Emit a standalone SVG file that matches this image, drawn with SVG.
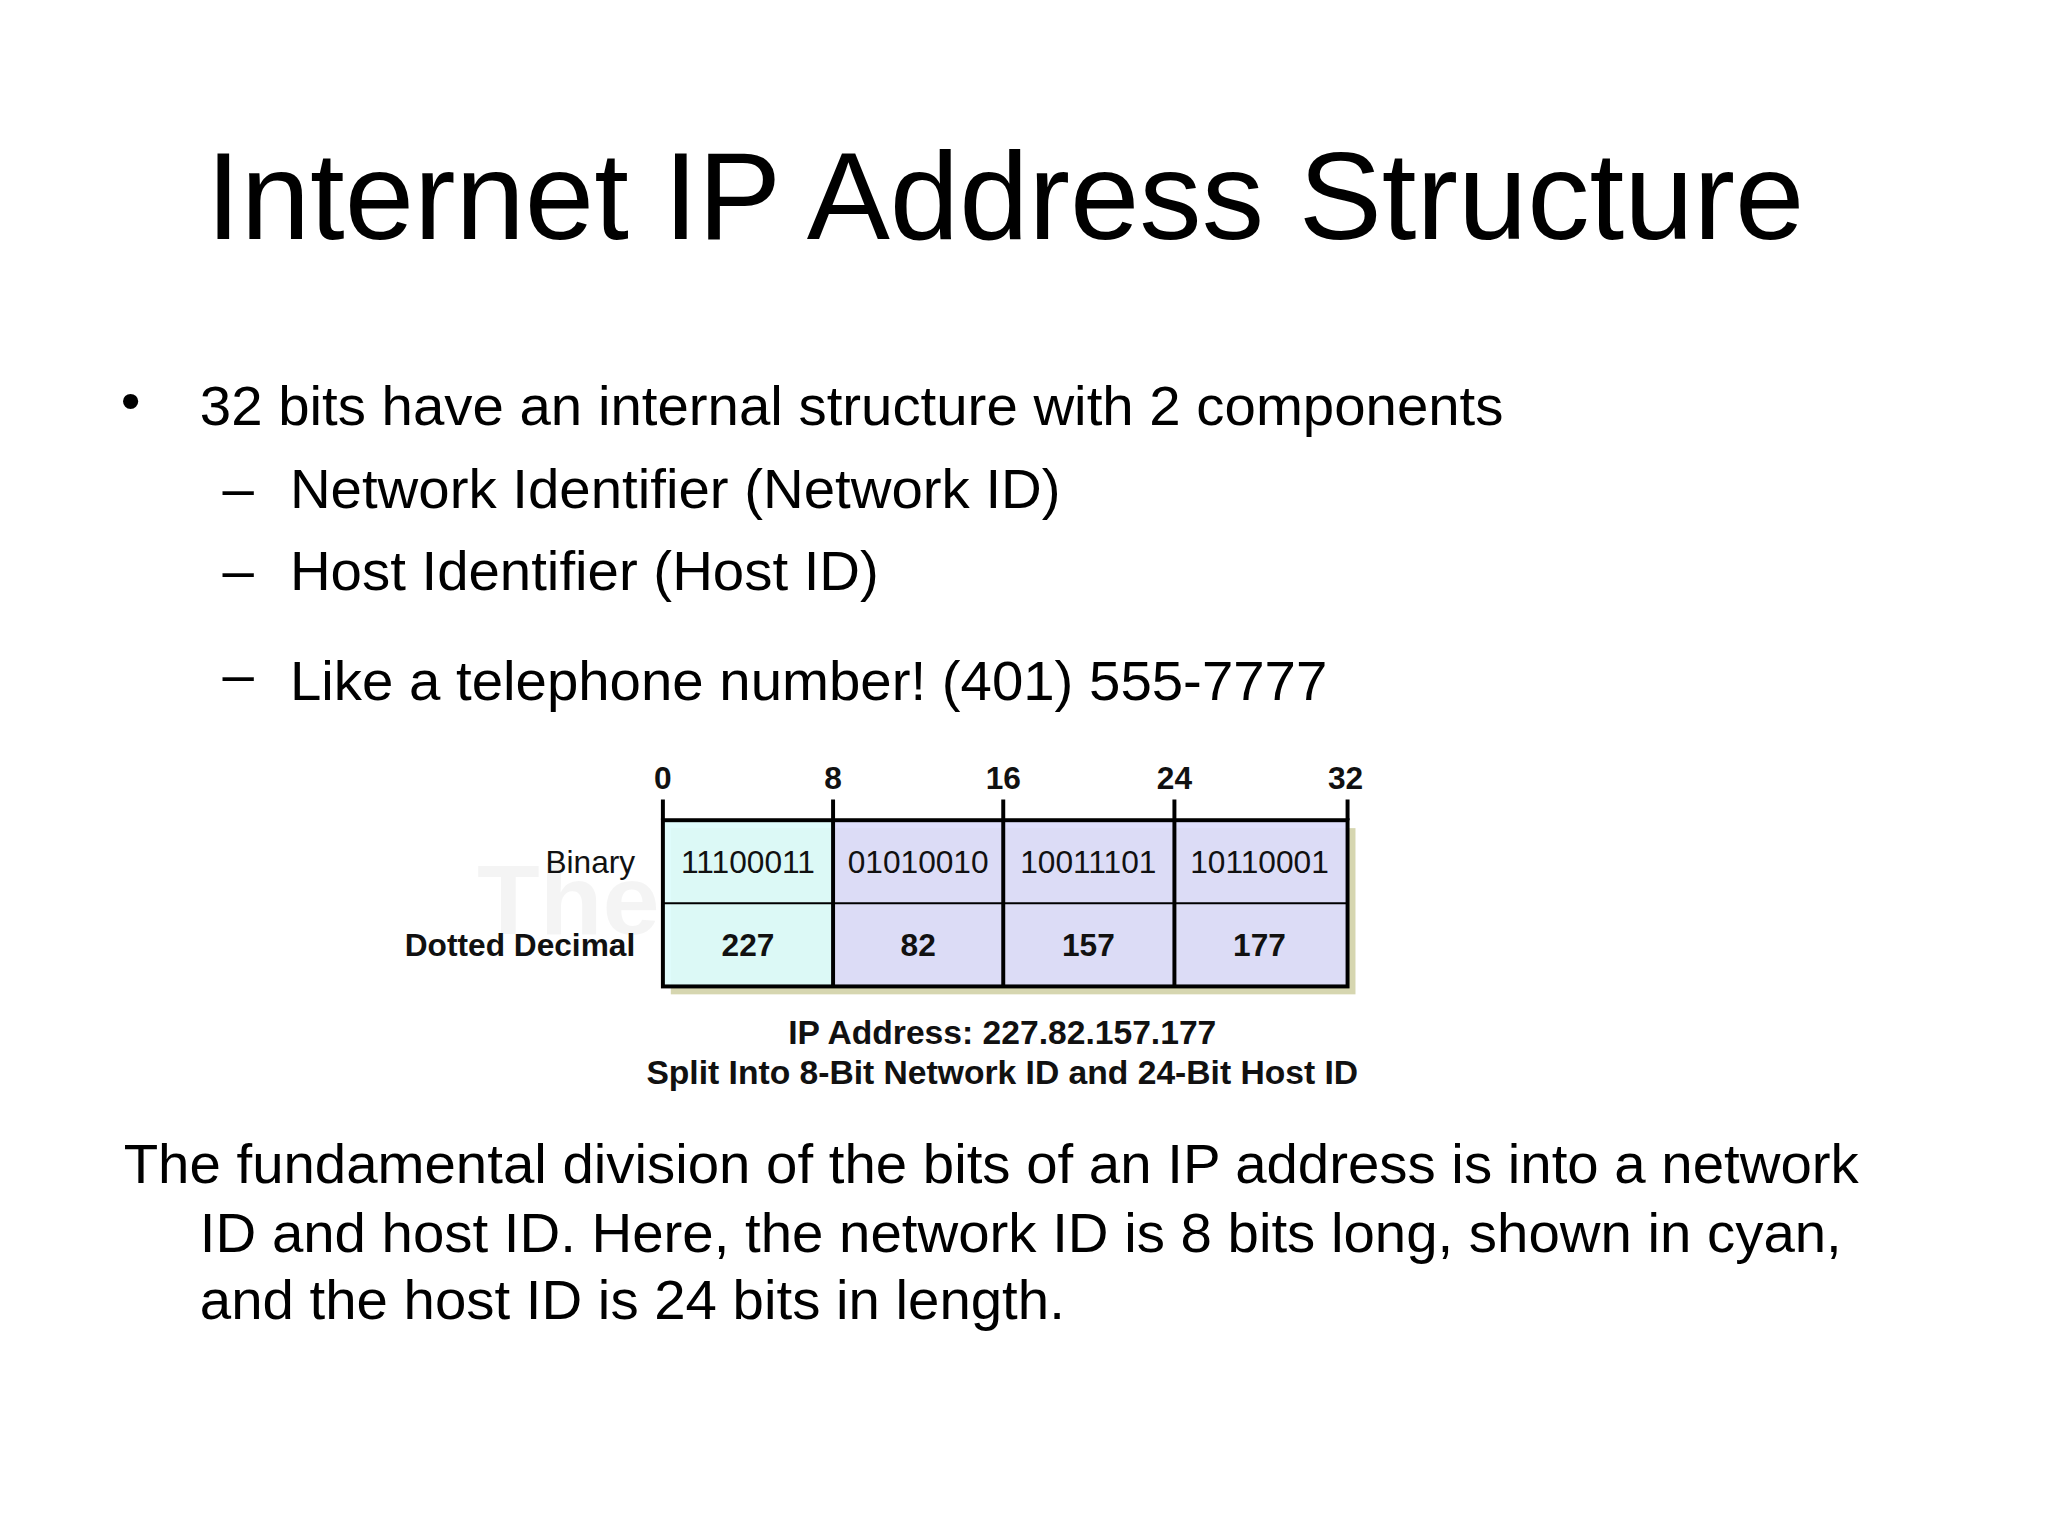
<svg xmlns="http://www.w3.org/2000/svg" width="2048" height="1536" viewBox="0 0 2048 1536">
<style>
.t{font-family:"Liberation Sans",Arial,sans-serif;fill:#000}
.b{font-size:57px}
.s{font-family:"Liberation Sans",Arial,sans-serif;font-size:32px;fill:#111}
.bd{font-weight:bold}
.ln{stroke:#000;stroke-width:4;fill:none}
</style>
<rect width="2048" height="1536" fill="#fff"/>
<g transform="scale(0.9894)">
<text class="t" x="1016" y="242" font-size="126" text-anchor="middle">Internet IP Address Structure</text>
<g id="bullets">
<text class="t b" x="122" y="424">•</text>
<text class="t b" x="202" y="430">32 bits have an internal structure with 2 components</text>
<text class="t b" x="225" y="512">–</text>
<text class="t b" x="293" y="513">Network Identifier (Network ID)</text>
<text class="t b" x="225" y="595">–</text>
<text class="t b" x="293" y="596">Host Identifier (Host ID)</text>
<text class="t b" x="225" y="700">–</text>
<text class="t b" x="293" y="707">Like a telephone number! (401) 555-7777</text>
</g>
<g id="table">
<text x="917" y="944" font-family="Liberation Sans,Arial,sans-serif" font-weight="bold" font-size="100" textLength="870" lengthAdjust="spacingAndGlyphs" fill="#000" fill-opacity="0.045" text-anchor="middle">The TCP/IP Guide</text>
<rect x="678" y="837" width="692" height="168" fill="#d6d6b0"/>
<rect x="670" y="829" width="172" height="168" fill="#dcfcfc" fill-opacity="0.92"/>
<rect x="842" y="829" width="520" height="168" fill="#dcdcfc" fill-opacity="0.92"/>
<rect x="670" y="829" width="692" height="168" class="ln"/>
<line class="ln" x1="670" y1="913" x2="1362" y2="913" style="stroke-width:2"/>
<path class="ln" d="M670 808V829M842 808V997M1014 808V997M1187 808V997M1362 808V829"/>
<g class="s bd" text-anchor="middle">
<text x="670" y="797">0</text><text x="842" y="797">8</text><text x="1014" y="797">16</text><text x="1187" y="797">24</text><text x="1360" y="797">32</text>
</g>
<text class="s" x="642" y="882" text-anchor="end">Binary</text>
<text class="s bd" x="642" y="966" text-anchor="end" font-size="31">Dotted Decimal</text>
<g class="s" text-anchor="middle">
<text x="756" y="882">11100011</text><text x="928" y="882">01010010</text><text x="1100" y="882">10011101</text><text x="1273" y="882">10110001</text>
</g>
<g class="s bd" text-anchor="middle">
<text x="756" y="966">227</text><text x="928" y="966">82</text><text x="1100" y="966">157</text><text x="1273" y="966">177</text>
<text x="1013" y="1055" font-size="34">IP Address: 227.82.157.177</text>
<text x="1013" y="1096" font-size="34">Split Into 8-Bit Network ID and 24-Bit Host ID</text>
</g>
</g>
<g id="para">
<text class="t b" x="125" y="1196">The fundamental division of the bits of an IP address is into a network</text>
<text class="t b" x="202" y="1265">ID and host ID. Here, the network ID is 8 bits long, shown in cyan,</text>
<text class="t b" x="202" y="1333">and the host ID is 24 bits in length.</text>
</g>
</g>
</svg>
